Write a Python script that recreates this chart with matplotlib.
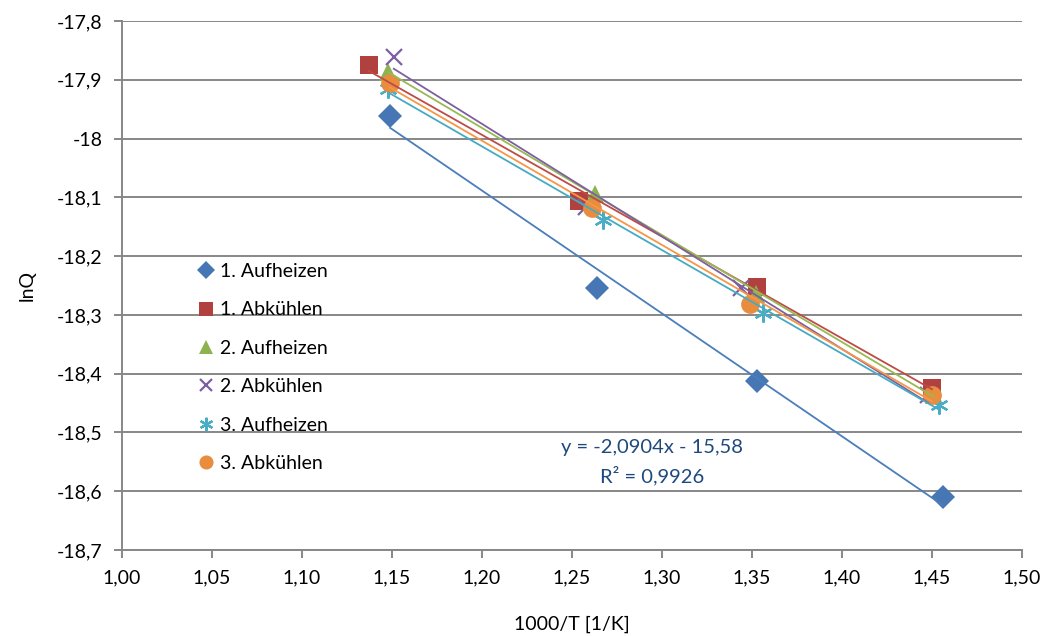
import numpy as np
import matplotlib
matplotlib.use("Agg")
from matplotlib import pyplot as plt
from matplotlib.ticker import FuncFormatter, MultipleLocator

plt.rcParams['font.family'] = ['Lato', 'DejaVu Sans']

# 1000/T [1/K] and lnQ for each heating / cooling run
x_auf1 = [1.149, 1.264, 1.353, 1.456]
y_auf1 = [-17.962, -18.254, -18.412, -18.610]
x_ab1 = [1.137, 1.254, 1.353, 1.450]
y_ab1 = [-17.875, -18.106, -18.252, -18.424]
x_auf2 = [1.148, 1.263, 1.352, 1.451]
y_auf2 = [-17.887, -18.094, -18.265, -18.436]
x_ab2 = [1.151, 1.258, 1.344, 1.448]
y_ab2 = [-17.861, -18.116, -18.254, -18.437]
x_auf3 = [1.148, 1.267, 1.356, 1.454]
y_auf3 = [-17.915, -18.138, -18.297, -18.453]
x_ab3 = [1.149, 1.261, 1.349, 1.450]
y_ab3 = [-17.905, -18.118, -18.281, -18.436]

labels = ['1. Aufheizen', '1. Abkühlen', '2. Aufheizen',
          '2. Abkühlen', '3. Aufheizen', '3. Abkühlen']

# linear fit of the first heating run, as shown in the label
fit_slope = -2.0904
fit_intercept = -15.58
fit_r2 = 0.9926

series = [
    (x_auf1, y_auf1, 'D', '#4676B4', '#4A7EBB', 12),
    (x_ab1, y_ab1, 's', '#B0413E', '#BE4B48', 12.5),
    (x_auf2, y_auf2, '^', '#8DB250', '#98B954', 13),
    (x_ab2, y_ab2, 'x', '#7D60A0', '#7D60A0', 12),
    (x_auf3, y_auf3, (6, 2, 0), '#4BACC6', '#46AAC5', 13),
    (x_ab3, y_ab3, 'o', '#E88C3E', '#F79646', 13.5),
]

fig = plt.figure(figsize=(10.5, 6.36), dpi=100)
ax = fig.add_axes([0.1162, 0.1352, 0.8571, 0.8318])

for i, (xs, ys, m, mc, lc, ms) in enumerate(series):
    xs = np.array(xs)
    ys = np.array(ys)
    if m in ('x', (6, 2, 0)):
        ax.plot(xs, ys, linestyle='none', marker=m, markersize=ms,
                color=mc, markeredgewidth=1.6, label=labels[i], zorder=3)
    else:
        ax.plot(xs, ys, linestyle='none', marker=m, markersize=ms,
                color=mc, markeredgewidth=0, label=labels[i], zorder=3)
    if i == 0:
        k, d = fit_slope, fit_intercept
    else:
        k, d = np.polyfit(xs, ys, 1)
    xl = np.array([xs.min(), xs.max()])
    ax.plot(xl, k * xl + d, color=lc, linewidth=1.3, zorder=4)

eq = 'y = {:.4f}x - {:.2f}\nR² = {:.4f}'.format(fit_slope, -fit_intercept, fit_r2)
ax.text(1.2944, -18.55, eq.replace('.', ','), color='#1F497D', fontsize=14.5,
        ha='center', va='center', linespacing=1.6)

ax.set_xlim(1.0, 1.5)
ax.set_ylim(-18.7, -17.8)
ax.xaxis.set_major_locator(MultipleLocator(0.05))
ax.yaxis.set_major_locator(MultipleLocator(0.1))
ax.xaxis.set_major_formatter(FuncFormatter(lambda v, p: '{:.2f}'.format(v).replace('.', ',')))
ax.yaxis.set_major_formatter(FuncFormatter(lambda v, p: '{:g}'.format(round(v, 1)).replace('.', ',')))

ax.grid(axis='y', color='#878787', linewidth=1.4)
ax.set_axisbelow(True)
for s in ('top', 'right'):
    ax.spines[s].set_visible(False)
for s in ('left', 'bottom'):
    ax.spines[s].set_color('#878787')
    ax.spines[s].set_linewidth(1.4)
ax.tick_params(axis='both', direction='out', length=6, width=1.4,
               color='#878787', labelsize=14, labelcolor='black', pad=8)

ax.set_xlabel('1000/T [1/K]', fontsize=14, labelpad=21)
ax.set_ylabel('lnQ', fontsize=14, labelpad=15)

ax.legend(loc='upper left', bbox_to_anchor=(0.074, 0.561), frameon=False,
          fontsize=14, markerscale=0.75, handlelength=0.8, handletextpad=0.3,
          labelspacing=1.1, borderpad=0)

fig.savefig('out.png', dpi=100)
